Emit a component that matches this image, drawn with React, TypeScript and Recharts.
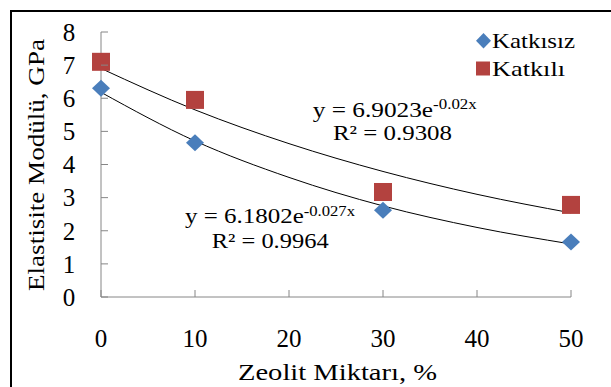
import React from "react";
import {
  ComposedChart,
  Line,
  Scatter,
  XAxis,
  YAxis,
} from "recharts";

// measured points (zeolite %, elastic modulus GPa)
const zeolit = [0, 10, 30, 50];
const katkisiz = [6.3, 4.66, 2.62, 1.66];
const katkili = [7.1, 5.95, 3.17, 2.78];

// trendline values
const trendX = [0, 10, 20, 30, 40, 50];
const trendKatkili = [6.9, 5.65, 4.63, 3.79, 3.1, 2.54];
const trendKatkisiz = [6.18, 4.71, 3.61, 2.75, 2.1, 1.6];

const xTicks = [0, 10, 20, 30, 40, 50];
const yTicks = [0, 1, 2, 3, 4, 5, 6, 7, 8];

const BLUE = "#4A7EBB";
const RED = "#B3423F";
const AXIS = "#868686";
const FONT = "Liberation Serif";

const pts = (xs: number[], ys: number[]) => xs.map((x, i) => ({ x, y: ys[i] }));

const katkisizData = pts(zeolit, katkisiz);
const katkiliData = pts(zeolit, katkili);
const trendUpper = pts(trendX, trendKatkili);
const trendLower = pts(trendX, trendKatkisiz);

type ShapeProps = { cx?: number; cy?: number };

function Diamond({ cx, cy }: ShapeProps) {
  if (cx === undefined || cy === undefined) return null;
  const w = 9;
  const h = 8.5;
  return (
    <polygon
      points={`${cx},${cy - h} ${cx + w},${cy} ${cx},${cy + h} ${cx - w},${cy}`}
      fill={BLUE}
    />
  );
}

function Square({ cx, cy }: ShapeProps) {
  if (cx === undefined || cy === undefined) return null;
  return <rect x={cx - 9} y={cy - 9} width={18} height={18} fill={RED} />;
}

type TickProps = { x?: number; y?: number; payload?: { value: number } };

function YTick({ x = 0, y = 0, payload }: TickProps) {
  return (
    <g>
      <line x1={x} x2={x + 7} y1={y} y2={y} stroke={AXIS} />
      <text
        x={x - 32}
        y={y}
        dy="0.35em"
        textAnchor="middle"
        fontFamily={FONT}
        fontSize={25}
        fill="#000"
      >
        {payload?.value}
      </text>
    </g>
  );
}

function XTick({ x = 0, y = 0, payload }: TickProps) {
  return (
    <g>
      <line x1={x} x2={x} y1={y - 7} y2={y} stroke={AXIS} />
      <text
        x={x}
        y={y + 50}
        textAnchor="middle"
        fontFamily={FONT}
        fontSize={25}
        fill="#000"
      >
        {payload?.value}
      </text>
    </g>
  );
}

export default function App() {
  return (
    <div
      style={{
        position: "absolute",
        left: 0,
        top: 0,
        width: 611,
        height: 387,
        overflow: "hidden",
        background: "#fff",
      }}
    >
      <div
        style={{
          position: "absolute",
          left: 10,
          top: 10,
          width: 640,
          height: 420,
          border: "2px solid #000",
        }}
      />
      <div style={{ position: "absolute", left: 0, top: 0 }}>
        <ComposedChart
          width={611}
          height={387}
          margin={{ top: 32, right: 40, bottom: 0, left: 0 }}
        >
          <XAxis
            type="number"
            dataKey="x"
            domain={[0, 50]}
            ticks={xTicks}
            height={90}
            stroke={AXIS}
            tickLine={false}
            tickSize={0}
            tickMargin={0}
            tick={<XTick />}
          />
          <YAxis
            type="number"
            dataKey="y"
            domain={[0, 8]}
            ticks={yTicks}
            width={101}
            stroke={AXIS}
            tickLine={false}
            tickSize={0}
            tickMargin={0}
            tick={<YTick />}
          />
          <Line
            data={trendUpper}
            dataKey="y"
            type="monotone"
            stroke="#000"
            strokeWidth={1}
            dot={false}
            isAnimationActive={false}
          />
          <Line
            data={trendLower}
            dataKey="y"
            type="monotone"
            stroke="#000"
            strokeWidth={1}
            dot={false}
            isAnimationActive={false}
          />
          <Scatter
            name="Katkısız"
            data={katkisizData}
            dataKey="y"
            shape={<Diamond />}
            isAnimationActive={false}
          />
          <Scatter
            name="Katkılı"
            data={katkiliData}
            dataKey="y"
            shape={<Square />}
            isAnimationActive={false}
          />
        </ComposedChart>
      </div>
      <svg
        width={611}
        height={387}
        style={{ position: "absolute", left: 0, top: 0, pointerEvents: "none" }}
      >
        {/* legend */}
        <polygon points="483.5,33 491,40.7 483.5,48.4 476,40.7" fill={BLUE} />
        <text x={492} y={47.5} fontFamily={FONT} fontSize={21} textLength={83} lengthAdjust="spacingAndGlyphs">
          Katkısız
        </text>
        <rect x={476} y={61.5} width={14} height={14} fill={RED} />
        <text x={492} y={75.5} fontFamily={FONT} fontSize={21} textLength={73} lengthAdjust="spacingAndGlyphs">
          Katkılı
        </text>

        {/* trendline equations */}
        <text x={312.7} y={116.7} fontFamily={FONT} fontSize={21} textLength={164} lengthAdjust="spacingAndGlyphs">
          <tspan>y = 6.9023e</tspan>
          <tspan fontSize={14} dy={-7.7}>-0.02x</tspan>
        </text>
        <text x={333} y={140} fontFamily={FONT} fontSize={21} textLength={119} lengthAdjust="spacingAndGlyphs">
          R² = 0.9308
        </text>
        <text x={185} y={223.3} fontFamily={FONT} fontSize={21} textLength={170} lengthAdjust="spacingAndGlyphs">
          <tspan>y = 6.1802e</tspan>
          <tspan fontSize={14} dy={-7.7}>-0.027x</tspan>
        </text>
        <text x={211.7} y={248.3} fontFamily={FONT} fontSize={21} textLength={117} lengthAdjust="spacingAndGlyphs">
          R² = 0.9964
        </text>

        {/* axis titles */}
        <text x={238} y={380} fontFamily={FONT} fontSize={23} textLength={199} lengthAdjust="spacingAndGlyphs">
          Zeolit Miktarı, %
        </text>
        <text
          transform="translate(36,165) rotate(-90)"
          textAnchor="middle"
          dy="0.35em"
          fontFamily={FONT}
          fontSize={24}
          textLength={252}
          lengthAdjust="spacingAndGlyphs"
        >
          Elastisite Modülü, GPa
        </text>
      </svg>
    </div>
  );
}
